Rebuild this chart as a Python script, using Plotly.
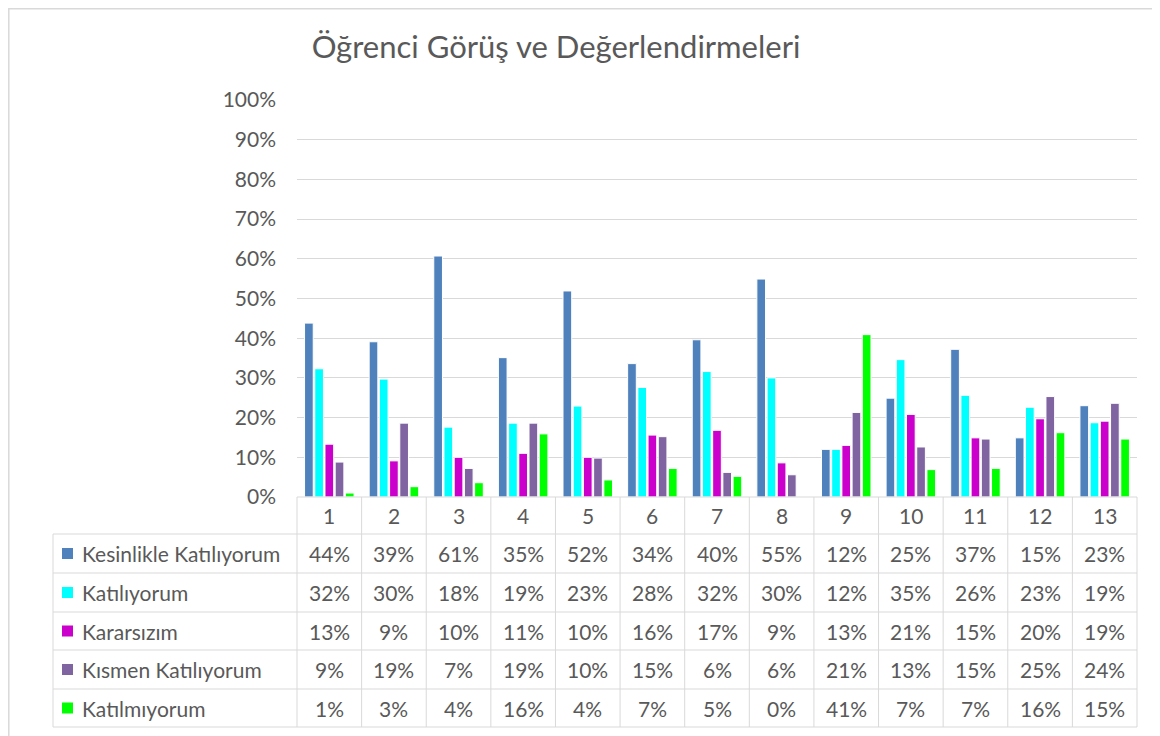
import plotly.graph_objects as go

# ---------------- data ----------------
categories = [str(i) for i in range(1, 14)]
series_names = ["Kesinlikle Katılıyorum", "Katılıyorum", "Kararsızım",
                "Kısmen Katılıyorum", "Katılmıyorum"]
kesinlikle = [43.8, 39.1, 60.7, 35.1, 51.9, 33.6, 39.6, 54.9, 12.0, 24.9, 37.2, 14.9, 23.0]
katiliyorum = [32.3, 29.7, 17.6, 18.6, 22.9, 27.6, 31.6, 30.0, 12.0, 34.6, 25.6, 22.6, 18.7]
kararsizim = [13.3, 9.1, 10.0, 11.0, 10.0, 15.6, 16.8, 8.6, 13.0, 20.8, 14.9, 19.7, 19.1]
kismen = [8.8, 18.6, 7.2, 18.6, 9.8, 15.2, 6.2, 5.6, 21.3, 12.6, 14.6, 25.3, 23.6]
katilmiyorum = [1.0, 2.6, 3.6, 15.9, 4.3, 7.2, 5.2, 0.0, 40.9, 6.9, 7.2, 16.2, 14.6]
series_values = [kesinlikle, katiliyorum, kararsizim, kismen, katilmiyorum]
title_text = "Öğrenci Görüş ve Değerlendirmeleri"

# ---------------- style ----------------
colors = ["#4F81BD", "#00FFFF", "#CC00CC", "#8064A2", "#00FF00"]
FONT = "Lato, Carlito, Calibri, sans-serif"
TXT = "#595959"
GRID = "#D9D9D9"
OFF = 8                      # page body margin
W, H = 1160 - OFF, 736 - OFF
# plot area in screen pixels
L, R, T, B = 297, 1137, 100, 497
PW, PH = R - L, B - T

def px_x(x):
    return (x - L) / PW

def px_y(y):
    return (B - y) / PH

fig = go.Figure()
for name, vals, col in zip(series_names, series_values, colors):
    fig.add_trace(go.Bar(
        x=categories, y=[v / 100 for v in vals], name=name,
        marker=dict(color=col, line=dict(color="white", width=1)),
        showlegend=False,
    ))

shapes = []
annotations = []

# table grid
row_edges = [497, 534, 573, 612, 650, 689, 727]
line = dict(color=GRID, width=1)
shapes.append(dict(type="line", xref="paper", yref="paper",
                   x0=0, x1=1, y0=px_y(497), y1=px_y(497), line=line))
for ye in row_edges[1:]:
    shapes.append(dict(type="line", xref="paper", yref="paper",
                       x0=px_x(53), x1=1, y0=px_y(ye), y1=px_y(ye), line=line))
shapes.append(dict(type="line", xref="paper", yref="paper",
                   x0=px_x(53), x1=px_x(53), y0=px_y(534), y1=px_y(727), line=line))
ncat = len(categories)
for k in range(ncat + 1):
    xv = k / ncat
    shapes.append(dict(type="line", xref="paper", yref="paper",
                       x0=xv, x1=xv, y0=px_y(497), y1=px_y(727), line=line))

# outer chart border
shapes.append(dict(type="rect", xref="paper", yref="paper",
                   x0=px_x(OFF + 0.8), x1=px_x(1190), y0=px_y(OFF + 0.8), y1=px_y(780),
                   line=dict(color=GRID, width=1.5), layer="below"))

fsize = 21
# header row
for idx, c in enumerate(categories):
    annotations.append(dict(x=idx, xref="x", y=px_y((497 + 534) / 2), yref="paper",
                            text=c, showarrow=False, xanchor="center", yanchor="middle",
                            font=dict(family=FONT, size=fsize, color=TXT)))
# data rows
for i, (name, vals, col) in enumerate(zip(series_names, series_values, colors)):
    yc = (row_edges[i + 1] + row_edges[i + 2]) / 2
    shapes.append(dict(type="rect", xref="paper", yref="paper",
                       x0=px_x(62), x1=px_x(73), y0=px_y(yc - 5.5), y1=px_y(yc + 5.5),
                       fillcolor=col, line=dict(width=0)))
    annotations.append(dict(x=px_x(80), xref="paper", y=px_y(yc), yref="paper",
                            text=name, showarrow=False, xanchor="left", yanchor="middle",
                            font=dict(family=FONT, size=fsize, color=TXT)))
    for idx, v in enumerate(vals):
        annotations.append(dict(x=idx, xref="x", y=px_y(yc), yref="paper",
                                text=f"{int(v + 0.5)}%", showarrow=False,
                                xanchor="center", yanchor="middle",
                                font=dict(family=FONT, size=fsize, color=TXT)))

fig.update_layout(
    width=W, height=H,
    margin=dict(l=L - OFF, r=W - (R - OFF), t=T - OFF, b=H - (B - OFF)),
    paper_bgcolor="white", plot_bgcolor="white",
    barmode="group", bargap=0.21, bargroupgap=0.15,
    title=dict(text=title_text, x=(556 - OFF) / W, xanchor="center",
               y=1 - (47 - OFF) / H, yanchor="middle",
               font=dict(family=FONT, size=31, color=TXT)),
    xaxis=dict(type="category", showticklabels=False, showgrid=False,
               showline=False, zeroline=False, ticks=""),
    yaxis=dict(range=[0, 1], dtick=0.1, tickformat=".0%", showgrid=True,
               gridcolor=GRID, gridwidth=1, zeroline=False, showline=False,
               ticklabelstandoff=20,
               tickfont=dict(family=FONT, size=fsize, color=TXT)),
    shapes=shapes, annotations=annotations,
)

fig.write_html("out.html")
